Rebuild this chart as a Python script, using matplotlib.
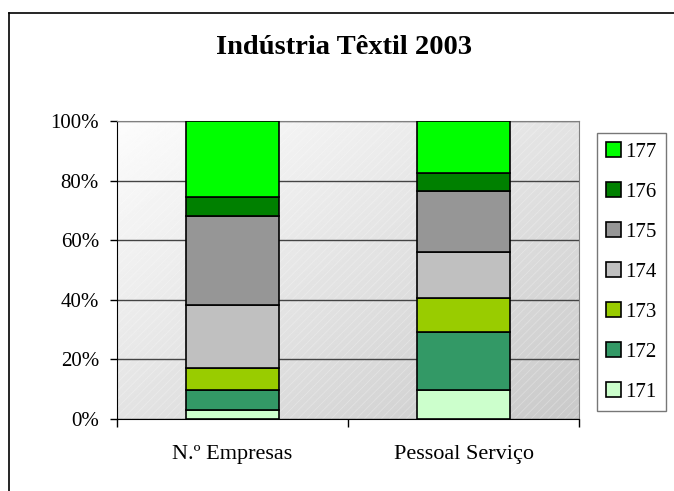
import numpy as np
import matplotlib
matplotlib.use('Agg')
import matplotlib.pyplot as plt
from matplotlib.patches import Rectangle
from matplotlib.lines import Line2D

# data (percent of each bar)
categories = ['N.º Empresas', 'Pessoal Serviço']
series = ['171', '172', '173', '174', '175', '176', '177']
empresas = [3.0, 6.8, 7.2, 21.3, 29.7, 6.6, 25.4]
pessoal = [9.8, 19.3, 11.6, 15.4, 20.5, 6.1, 17.3]
colors = ['#CCFFCC', '#339966', '#99CC00', '#C0C0C0', '#969696', '#008000', '#00FF00']
yticks = [0, 20, 40, 60, 80, 100]
title = 'Indústria Têxtil 2003'

plt.rcParams['font.family'] = ['Liberation Serif', 'DejaVu Serif']
plt.rcParams['hatch.linewidth'] = 0.6

fig = plt.figure(figsize=(6.74, 4.91), dpi=100)
W, H = 674.0, 491.0
ax = fig.add_axes([117 / W, 1 - 419 / H, 462 / W, 298 / H])

# gradient background of the plot area
gx, gy = np.meshgrid(np.linspace(0, 1, 200), np.linspace(1, 0, 200))
shade = 0.99 - 0.2 * (gx + (1 - gy)) / 2
ax.imshow(shade, cmap='gray', vmin=0, vmax=1, extent=[0, 1, 0, 1],
          transform=ax.transAxes, aspect='auto', zorder=0, interpolation='bilinear')
ax.add_patch(Rectangle((0, 0), 1, 1, transform=ax.transAxes, facecolor='none',
                       edgecolor=(1, 1, 1, 0.28), hatch='////', linewidth=0, zorder=0.5))

x = np.arange(len(categories))
values = np.array([empresas, pessoal])
bottom = np.zeros(len(categories))
handles = []
for i, name in enumerate(series):
    b = ax.bar(x, values[:, i], 0.4, bottom=bottom, color=colors[i],
               edgecolor='black', linewidth=1.2, label=name, zorder=3)
    handles.append(b)
    bottom += values[:, i]

ax.set_xlim(-0.5, 1.5)
ax.set_ylim(0, 100)
ax.set_yticks(yticks)
ax.set_yticklabels(['%d%%' % v for v in yticks], fontsize=15)
ax.yaxis.grid(True, color='#444444', linewidth=1, zorder=1)
ax.set_axisbelow(True)

ax.set_xticks(x)
ax.set_xticklabels(categories, fontsize=16)
ax.set_xticks([-0.5, 0.5, 1.5], minor=True)
ax.tick_params(axis='x', which='major', length=0, pad=19)
ax.tick_params(axis='x', which='minor', length=6, width=1, color='black', direction='out')
ax.tick_params(axis='y', length=5, width=1, color='black', pad=8)

ax.spines['left'].set_color('black')
ax.spines['bottom'].set_color('black')
ax.spines['top'].set_color('#808080')
ax.spines['right'].set_color('#808080')

fig.text(344 / W, 1 - 48 / H, title, fontsize=20.5, fontweight='bold',
         ha='center', va='center')

leg = fig.legend(handles[::-1], series[::-1], loc='upper left',
                 bbox_to_anchor=(597 / W, 1 - 133 / H), fontsize=15,
                 frameon=True, fancybox=False, shadow=False,
                 handlelength=0.72, handleheight=0.72, handletextpad=0.2,
                 labelspacing=0.97, borderpad=0.45, borderaxespad=0)
leg.get_frame().set_edgecolor('#555555')
leg.get_frame().set_linewidth(1)

# outer chart frame (left and top edges visible)
fig.add_artist(Line2D([9 / W, 9 / W], [0, 1 - 13 / H], color='black', linewidth=1.2))
fig.add_artist(Line2D([9 / W, 1], [1 - 13 / H, 1 - 13 / H], color='black', linewidth=1.2))

fig.savefig('out.png', dpi=100)
